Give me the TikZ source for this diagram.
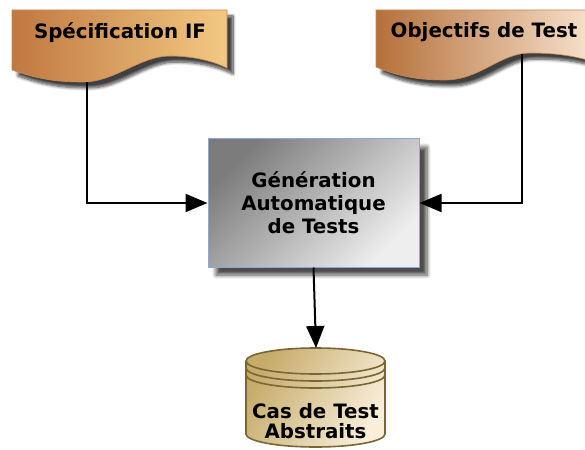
\documentclass[tikz,border=0pt]{standalone}
\usepackage{fontspec}
\newfontfamily\labfont{DejaVu Sans}
\usetikzlibrary{arrows.meta,shadows.blur}
\definecolor{docAl}{HTML}{C07840}
\definecolor{docAr}{HTML}{F3C982}
\definecolor{docBl}{HTML}{B5703A}
\definecolor{docBr}{HTML}{FAE6D2}
\definecolor{docedge}{HTML}{C88A55}
\definecolor{boxdark}{HTML}{7C7C7C}
\definecolor{boxlight}{HTML}{EEEEEE}
\definecolor{boxedge}{HTML}{8EA8D2}
\definecolor{cyldark}{HTML}{C6AB6A}
\definecolor{cyllight}{HTML}{F8EEDA}
\definecolor{cyledge}{HTML}{7A6535}
\tikzset{
  lab/.style={font=\labfont\bfseries\fontsize{19.8}{23}\selectfont, align=center, text=black},
  conn/.style={line width=2pt, black, -{Triangle[length=22pt,width=18pt]}},
  docshadow/.style={blur shadow={shadow xshift=6pt, shadow yshift=-6pt, shadow blur steps=8, shadow blur radius=3pt, shadow opacity=75}},
  cylline/.style={draw=cyledge, line width=1.6pt},
  cylarc/.style={x radius=69.5pt, y radius=13pt},
}
\begin{document}
\begin{tikzpicture}[x=1pt,y=-1pt]
\useasboundingbox (0,0) rectangle (585,449);
\clip (0,0) rectangle (585,449);
% document 1
\path[docshadow, left color=docAl, right color=docAr, draw=docedge, line width=0.6pt]
  (12,10) -- (227,10) -- (227,68)
  .. controls (215,62) and (195,56) .. (170,56)
  .. controls (140,56) and (115,82) .. (83,82)
  .. controls (60,82) and (40,80) .. (12,70) -- cycle;
\node[lab] (spec) at (120,33) {Spécification IF};
\coordinate (d1) at (87,82);
% document 2
\path[docshadow, left color=docBl, right color=docBr, draw=docedge, line width=0.6pt]
  (376,10) -- (600,10) -- (600,64)
  .. controls (580,57) and (560,53) .. (530,53)
  .. controls (500,53) and (480,80) .. (445,80)
  .. controls (420,80) and (400,77) .. (376,67) -- cycle;
\node[lab] (obj) at (484,32) {Objectifs de Test};
\coordinate (d2) at (522,54);
% central box
\node[lab, minimum width=211pt, minimum height=128pt, inner sep=0pt,
      draw=boxedge, line width=1pt,
      top color=boxdark, bottom color=boxlight, shading angle=45,
      blur shadow={shadow xshift=8pt, shadow yshift=-8pt, shadow blur steps=8, shadow blur radius=4pt, shadow opacity=70}]
  (gen) at (313.5,203) {Génération\\Automatique\\de Tests};
% cylinder
\path[left color=cyldark, right color=cyllight, shading angle=60, cylline]
  (246,361) -- (246,434) arc[start angle=180, end angle=360, cylarc]
  -- (385,361) arc[start angle=0, end angle=180, cylarc] -- cycle;
\draw[cylline] (246,361) arc[start angle=180, end angle=360, cylarc];
\draw[cylline] (246,368) arc[start angle=180, end angle=360, cylarc];
\draw[cylline] (246,375) arc[start angle=180, end angle=360, cylarc];
\coordinate (cyltop) at (316,348);
\node[lab, font=\labfont\bfseries\fontsize{19.8}{20.5}\selectfont] (cas) at (315.5,421) {Cas de Test\\Abstraits};
% connectors
\draw[conn] (d1) |- (gen.west);
\draw[conn] (d2) |- (gen.east);
\draw[conn] (gen.south) -- (cyltop);
\end{tikzpicture}
\end{document}
